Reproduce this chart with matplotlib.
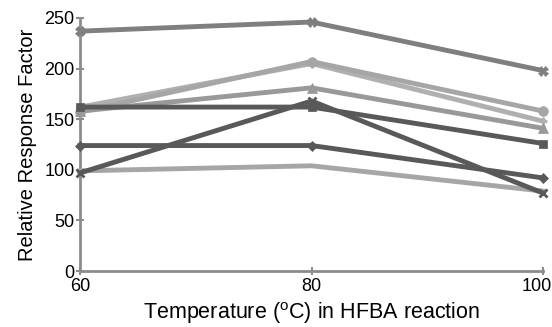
import matplotlib
matplotlib.use("Agg")
import matplotlib.pyplot as plt
from matplotlib.transforms import ScaledTranslation

plt.rcParams["font.family"] = ["Liberation Sans", "DejaVu Sans"]

temps = [60, 80, 100]

s_x_top = [237, 246, 198]
s_circle = [157, 207, 158]
s_plus = [162, 205, 148]
s_triangle = [158, 181, 141]
s_square = [162, 162, 126]
s_diamond = [124, 124, 92]
s_x_dark = [97, 168, 77]
s_plain = [99, 104, 79]

series = [
    (s_plain, "#a6a6a6", None, 0),
    (s_x_top, "#7f7f7f", "X", 7),
    (s_plus, "#b0b0b0", "+", 6),
    (s_circle, "#a6a6a6", "o", 7),
    (s_triangle, "#999999", "^", 7),
    (s_square, "#595959", "s", 6),
    (s_diamond, "#595959", "D", 5),
    (s_x_dark, "#595959", "x", 6),
]

fig, ax = plt.subplots(figsize=(5.52, 3.27), dpi=100)
fig.subplots_adjust(left=0.145, right=0.984, top=0.945, bottom=0.171)

for vals, col, mk, ms in series:
    ax.plot(temps, vals, color=col, lw=3.5, marker=mk, markersize=ms,
            markeredgewidth=2 if mk in ("x", "+") else 0.5,
            markeredgecolor=col, clip_on=False, zorder=3)

ax.set_xlim(60, 100)
ax.set_ylim(0, 250)
ax.set_xticks(temps)
ax.set_yticks(range(0, 251, 50))
for side in ("top", "right"):
    ax.spines[side].set_visible(False)
for side in ("left", "bottom"):
    ax.spines[side].set_color("#8c8c8c")
    ax.spines[side].set_linewidth(2)
ax.tick_params(colors="#8c8c8c", width=1.5, length=6, direction="inout",
               labelcolor="black", labelsize=13, pad=1)
ax.tick_params(axis="x", pad=2)
# last x label pushed inside like the original
lbl = ax.get_xticklabels()[-1]
lbl.set_transform(lbl.get_transform() + ScaledTranslation(-6 / 100, 0, fig.dpi_scale_trans))
ax.set_xlabel("Temperature ($^{\\mathregular{o}}$C) in HFBA reaction", fontsize=15.5, labelpad=4)
ax.set_ylabel("Relative Response Factor", fontsize=14.5, labelpad=5)

fig.savefig("out.png", dpi=100)
